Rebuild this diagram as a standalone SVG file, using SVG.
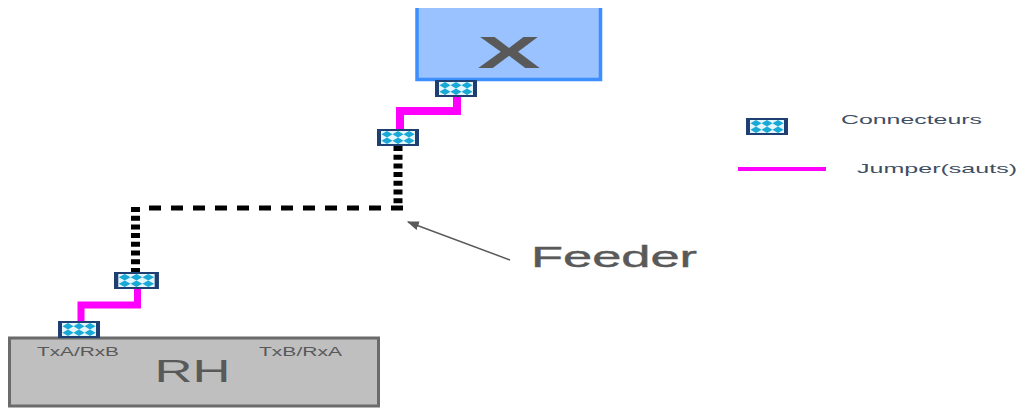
<svg xmlns="http://www.w3.org/2000/svg" width="1018" height="409" viewBox="0 0 1018 409">
<style>
text{font-family:"Liberation Sans",Arial,sans-serif;fill:#595959}
.jump{fill:none;stroke:#ff00ff;stroke-linejoin:miter}
.fv{fill:none;stroke:#000;stroke-width:9;stroke-dasharray:5 3.7}
.fh{fill:none;stroke:#000;stroke-width:5;stroke-dasharray:12 10}
.leg{fill:#3f4f63}
</style>
<defs>
<g id="dia"><path d="M5.500 0L11 3.200L5.500 6.400L0 3.200Z" fill="#19a9d6"/></g>
<g id="conn">
<rect x="0" y="0" width="42" height="17" fill="#1f3f73"/>
<rect x="4" y="2" width="34" height="13" fill="#e4f5fb"/>
<use href="#dia" x="4.500" y="2"/><use href="#dia" x="15.500" y="2"/><use href="#dia" x="26.500" y="2"/>
<use href="#dia" x="4.500" y="8.600"/><use href="#dia" x="15.500" y="8.600"/><use href="#dia" x="26.500" y="8.600"/>
</g>
<marker id="ah" viewBox="0 0 10 10" refX="9" refY="5" markerWidth="12" markerHeight="9" orient="auto" markerUnits="userSpaceOnUse" preserveAspectRatio="none">
<path d="M0 0L10 5L0 10Z" fill="#595959"/>
</marker>
</defs>
<g id="node-x">
<rect x="416" y="8" width="185" height="71.500" fill="#99c2ff"/>
<path d="M417 8V79.500H600.500V8" fill="none" stroke="#3d8fff" stroke-width="3.500"/>
<text x="509" y="68" font-size="44" font-weight="bold" text-anchor="middle" textLength="63" lengthAdjust="spacingAndGlyphs">X</text>
</g>
<g id="node-rh">
<rect x="9.500" y="338" width="369" height="68" fill="#bfbfbf" stroke="#6b6b6b" stroke-width="3"/>
<text x="192.500" y="382" font-size="31" text-anchor="middle" textLength="76" lengthAdjust="spacingAndGlyphs">RH</text>
<text x="37" y="356" font-size="13" textLength="82" lengthAdjust="spacingAndGlyphs">TxA/RxB</text>
<text x="259" y="356" font-size="13" textLength="83" lengthAdjust="spacingAndGlyphs">TxB/RxA</text>
</g>
<g id="connectors">
<path class="jump" stroke-width="8" d="M457 96V111H400V129"/>
<path class="jump" stroke-width="7" d="M137.500 289V305H81V321"/>
<path class="fv" d="M398 146V208"/>
<path class="fh" d="M149 208H405"/>
<path class="fv" d="M135.500 207V272"/>
<path d="M510 260L408 222" fill="none" stroke="#595959" stroke-width="1.500" marker-end="url(#ah)"/>
</g>
<g id="connector-1"><use href="#conn" x="435" y="80"/></g>
<g id="connector-2"><use href="#conn" x="377" y="129"/></g>
<g id="connector-3"><use href="#conn" transform="translate(114 272) scale(1.070 1)"/></g>
<g id="connector-4"><use href="#conn" x="58" y="321"/></g>
<g id="label-feeder">
<text x="531" y="267" font-size="29" stroke="#595959" stroke-width="0.400" textLength="166" lengthAdjust="spacingAndGlyphs">Feeder</text>
</g>
<g id="legend">
<use href="#conn" x="746" y="118"/>
<text class="leg" x="841" y="124" font-size="13" textLength="141" lengthAdjust="spacingAndGlyphs">Connecteurs</text>
<path d="M738 169H826" fill="none" stroke="#ff00ff" stroke-width="4"/>
<text class="leg" x="857" y="173" font-size="13" textLength="160" lengthAdjust="spacingAndGlyphs">Jumper(sauts)</text>
</g>
</svg>
